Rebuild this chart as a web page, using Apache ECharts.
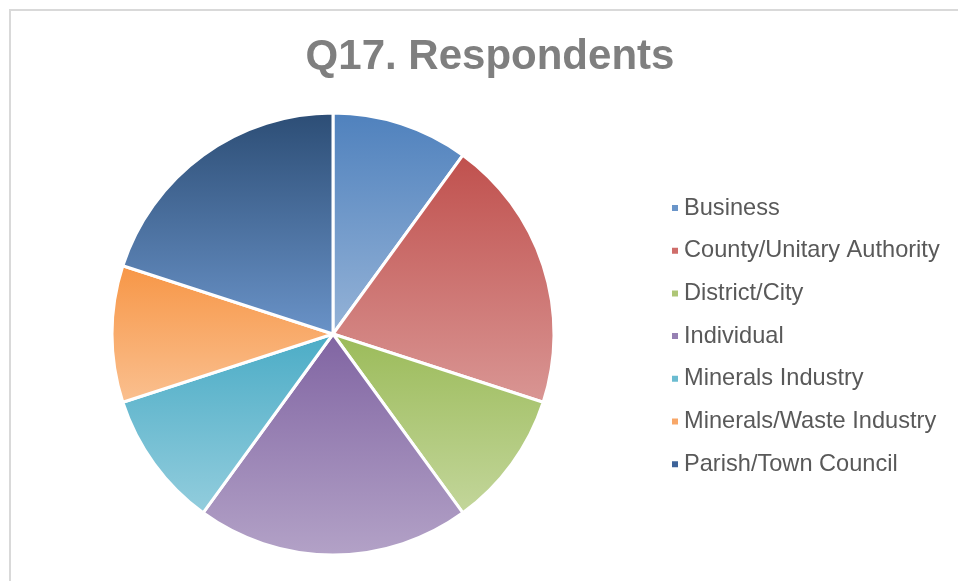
<!DOCTYPE html>
<html>
<head>
<meta charset="utf-8">
<script src="https://cdn.jsdelivr.net/npm/echarts@6/dist/echarts.min.js"></script>
<style>
html,body{margin:0;padding:0;background:#fff;}
#chart{width:958px;height:581px;}
</style>
</head>
<body>
<div id="chart"></div>
<script>
var categories = ['Business','County/Unitary Authority','District/City','Individual','Minerals Industry','Minerals/Waste Industry','Parish/Town Council'];
var values = [1, 2, 1, 2, 1, 1, 2];
var topColors = ['#4f81bd','#c0504d','#9bbb59','#8064a2','#4bacc6','#f79646','#2c4d75'];
var bottomColors = ['#95b3d7','#d99694','#c3d69b','#b3a2c7','#93cddd','#fac090','#6a93c8'];
var legendColors = ['#6a95c9','#cf6d6a','#aec676','#9680b3','#6bbcd1','#f8a768','#3d6399'];

function grad(i){
  return new echarts.graphic.LinearGradient(0,0,0,1,[
    {offset:0,color:topColors[i]},
    {offset:1,color:bottomColors[i]}
  ]);
}

var data = categories.map(function(c,i){
  return {name:c, value:values[i], itemStyle:{color:grad(i)}};
});

var chart = echarts.init(document.getElementById('chart'));
chart.setOption({
  animation:false,
  backgroundColor:'#fff',
  graphic:[{
    type:'rect', shape:{x:10,y:10,width:1000,height:1000},
    style:{fill:'none',stroke:'#d9d9d9',lineWidth:2}, silent:true, z:-1
  }],
  title:{
    text:'Q17. Respondents',
    left:485, top:31, textAlign:'center',
    textStyle:{fontFamily:'Liberation Sans, Arial, sans-serif',fontWeight:'bold',fontSize:42,color:'#7f7f7f'}
  },
  legend:{
    orient:'vertical',
    left:665, top:191,
    itemWidth:8, itemHeight:8, itemGap:18.7,
    icon:'rect',
    data:categories.map(function(c,i){return {name:c,itemStyle:{color:legendColors[i]}};}),
    textStyle:{fontFamily:'Liberation Sans, Arial, sans-serif',fontSize:23.6,color:'#595959',lineHeight:24}
  },
  series:[{
    type:'pie',
    center:[333,334],
    radius:[0,221],
    startAngle:90,
    clockwise:true,
    label:{show:false},
    labelLine:{show:false},
    itemStyle:{borderColor:'#fff',borderWidth:3},
    emphasis:{disabled:true},
    data:data
  }]
});
</script>
</body>
</html>
